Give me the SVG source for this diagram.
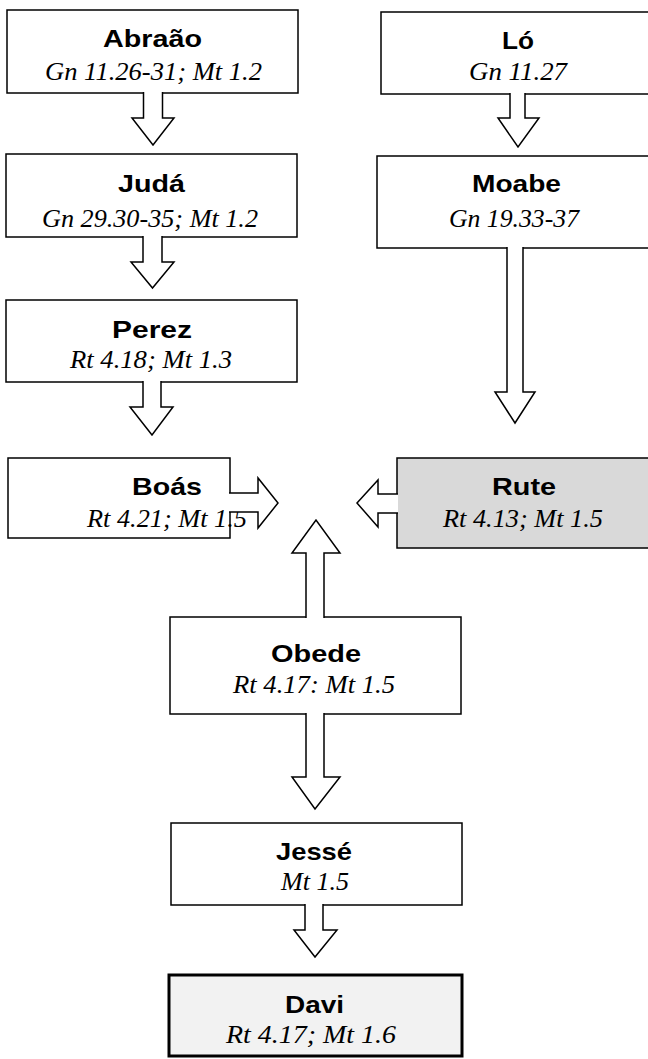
<svg xmlns="http://www.w3.org/2000/svg" width="648" height="1059" viewBox="0 0 648 1059">
<style>
.box{fill:#ffffff;stroke:#000000;stroke-width:1.5}
.rute{fill:#d9d9d9;stroke:#000000;stroke-width:1.5}
.davi{fill:#f2f2f2;stroke:#000000;stroke-width:3}
.name{font-family:"Liberation Sans",Arial,sans-serif;font-weight:bold;font-size:24px;text-anchor:middle;fill:#000}
.ref{font-family:"Liberation Serif","Times New Roman",serif;font-style:italic;font-size:25px;text-anchor:middle;fill:#000}
.arrow{fill:#ffffff;stroke:#000000;stroke-width:1.5;stroke-linejoin:miter}
</style>
<rect width="648" height="1059" fill="#ffffff"/>
<g id="abraao">
<rect class="box" x="7" y="10" width="291" height="83"/>
<text class="name" x="152.5" y="47" textLength="99" lengthAdjust="spacingAndGlyphs">Abraão</text>
<text class="ref" x="153.5" y="80" textLength="217" lengthAdjust="spacingAndGlyphs">Gn 11.26-31; Mt 1.2</text>
</g>
<g id="juda">
<rect class="box" x="6" y="154" width="291" height="83"/>
<text class="name" x="151.5" y="192" textLength="67" lengthAdjust="spacingAndGlyphs">Judá</text>
<text class="ref" x="150" y="227" textLength="216" lengthAdjust="spacingAndGlyphs">Gn 29.30-35; Mt 1.2</text>
</g>
<g id="perez">
<rect class="box" x="6" y="300" width="291" height="82"/>
<text class="name" x="152" y="338" textLength="80" lengthAdjust="spacingAndGlyphs">Perez</text>
<text class="ref" x="151" y="368" textLength="162" lengthAdjust="spacingAndGlyphs">Rt 4.18; Mt 1.3</text>
</g>
<g id="boas">
<rect class="box" x="8" y="458" width="222" height="80"/>
<text class="name" x="167" y="495" textLength="70" lengthAdjust="spacingAndGlyphs">Boás</text>
<text class="ref" x="167" y="527" textLength="160" lengthAdjust="spacingAndGlyphs">Rt 4.21; Mt 1.5</text>
</g>
<g id="lo">
<rect class="box" x="381" y="12" width="274" height="82"/>
<text class="name" x="518" y="49" textLength="32" lengthAdjust="spacingAndGlyphs">Ló</text>
<text class="ref" x="518" y="80" textLength="98" lengthAdjust="spacingAndGlyphs">Gn 11.27</text>
</g>
<g id="moabe">
<rect class="box" x="377" y="156" width="278" height="92"/>
<text class="name" x="516.5" y="192" textLength="89" lengthAdjust="spacingAndGlyphs">Moabe</text>
<text class="ref" x="514" y="227" textLength="130" lengthAdjust="spacingAndGlyphs">Gn 19.33-37</text>
</g>
<g id="rute">
<rect class="rute" x="397" y="458" width="258" height="90"/>
<text class="name" x="524" y="495" textLength="64" lengthAdjust="spacingAndGlyphs">Rute</text>
<text class="ref" x="523" y="527" textLength="160" lengthAdjust="spacingAndGlyphs">Rt 4.13; Mt 1.5</text>
</g>
<g id="obede">
<rect class="box" x="170" y="617" width="291" height="97"/>
<text class="name" x="316" y="662" textLength="90" lengthAdjust="spacingAndGlyphs">Obede</text>
<text class="ref" x="314" y="693" textLength="162" lengthAdjust="spacingAndGlyphs">Rt 4.17: Mt 1.5</text>
</g>
<g id="jesse">
<rect class="box" x="171" y="823" width="291" height="82"/>
<text class="name" x="314" y="860" textLength="76" lengthAdjust="spacingAndGlyphs">Jessé</text>
<text class="ref" x="315" y="890" textLength="68" lengthAdjust="spacingAndGlyphs">Mt 1.5</text>
</g>
<g id="davi">
<rect class="davi" x="169" y="975" width="293" height="81"/>
<text class="name" x="314.5" y="1013" textLength="59" lengthAdjust="spacingAndGlyphs">Davi</text>
<text class="ref" x="311" y="1043" textLength="170" lengthAdjust="spacingAndGlyphs">Rt 4.17; Mt 1.6</text>
</g>
<g id="connectors">
<path class="arrow" d="M143.5,92 L143.5,118 L132,118 L153,145 L174,118 L162.5,118 L162.5,92"/>
<path class="arrow" d="M143,236 L143,262 L131,262 L152.5,288 L174,262 L162,262 L162,236"/>
<path class="arrow" d="M143,381 L143,407 L130,407 L152,435 L173,407 L161,407 L161,381"/>
<path class="arrow" d="M229,493 L258,493 L258,478 L278,503 L258,528 L258,512 L229,512"/>
<path class="arrow" d="M510,93 L510,118 L498,118 L518,147 L539,118 L525,118 L525,93"/>
<path class="arrow" d="M507,247 L507,392 L495,392 L515,423 L535,392 L523,392 L523,247"/>
<path class="arrow" d="M398,494 L378,494 L378,480 L357,503 L378,527 L378,513 L398,513"/>
<path class="arrow" d="M306,618 L306,553 L292,553 L316,520 L340,553 L324,553 L324,618"/>
<path class="arrow" d="M306,713 L306,777 L292,777 L315,809 L340,777 L324,777 L324,713"/>
<path class="arrow" d="M305,904 L305,930 L294,930 L315,957 L337,930 L323,930 L323,904"/>
</g>
</svg>
